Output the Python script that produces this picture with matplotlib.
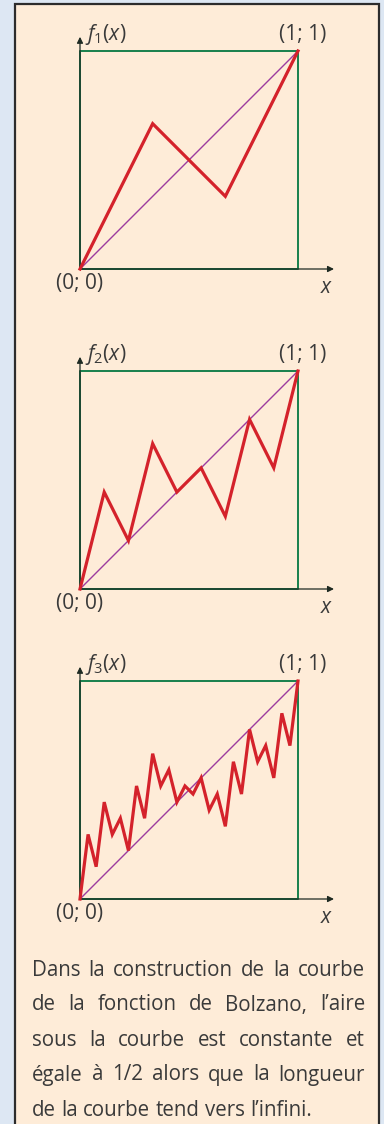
import matplotlib
matplotlib.use("Agg")
import matplotlib.pyplot as plt
from matplotlib.patches import Rectangle

# Successive stages of the Bolzano curve, vertices on a 1/27 grid
GRID = 27
f1_x = [0, 9, 18, 27]
f1_y = [0, 18, 9, 27]
f2_x = [0, 3, 6, 9, 12, 15, 18, 21, 24, 27]
f2_y = [0, 12, 6, 18, 12, 15, 9, 21, 15, 27]
f3_x = [0, 1, 2, 3, 4, 5, 6, 7, 8, 9, 10, 11, 12, 13,
        14, 15, 16, 17, 18, 19, 20, 21, 22, 23, 24, 25, 26, 27]
f3_y = [0, 8, 4, 12, 8, 10, 6, 14, 10, 18, 14, 16, 12, 14,
        13, 15, 11, 13, 9, 17, 13, 21, 17, 19, 15, 23, 19, 27]

stages = [
    (r"$f_1(x)$", f1_x, f1_y),
    (r"$f_2(x)$", f2_x, f2_y),
    (r"$f_3(x)$", f3_x, f3_y),
]
corner_lo = "(0; 0)"
corner_hi = "(1; 1)"
axis_name = r"$x$"

caption_lines = [
    "Dans la construction de la courbe",
    "de la fonction de Bolzano, l\u2019aire",
    "sous la courbe est constante et",
    "égale à 1/2 alors que la longueur",
    "de la courbe tend vers l\u2019infini.",
]

FONT = "Open Sans"
plt.rcParams["font.family"] = [FONT, "DejaVu Sans"]
plt.rcParams["mathtext.fontset"] = "custom"
plt.rcParams["mathtext.rm"] = FONT
plt.rcParams["mathtext.it"] = FONT + ":italic"

TEXT = "#3a3a3a"
GREEN = "#17804d"
RED = "#d4222b"
PURPLE = "#9c3c9f"
AXIS = "#1e2a22"

W, H, DPI = 384, 1124, 100
fig = plt.figure(figsize=(W / DPI, H / DPI), dpi=DPI)
fig.patch.set_facecolor("#dde7f3")

# framed beige panel, kept behind everything else
fig.patches.append(Rectangle((15 / W, -0.02), (379 - 15) / W, (H - 4) / H + 0.02,
                             transform=fig.transFigure, facecolor="#feecd8",
                             edgecolor="#2c2c2c", lw=1.6, zorder=-10))

SIDE = 218
LEFT = 80
tops = [51, 371, 681]
LABEL_SIZE = 15


def px_to_fig(x, y):
    return x / W, 1 - y / H


for (label, xs, ys), top in zip(stages, tops):
    bottom = top + SIDE
    ax = fig.add_axes([LEFT / W, 1 - bottom / H, SIDE / W, SIDE / H])
    ax.set_xlim(0, 1)
    ax.set_ylim(0, 1)
    ax.axis("off")

    ax.plot([0, 0, 1, 1, 0], [0, 1, 1, 0, 0], color=GREEN, lw=1.4,
            solid_capstyle="butt", clip_on=False)
    ax.plot([0, 1], [0, 1], color=PURPLE, lw=1.0)

    # coordinate axes with arrow heads, over the frame
    arrow = dict(arrowstyle="-|>", color=AXIS, lw=0.9, mutation_scale=9,
                 shrinkA=0, shrinkB=0)
    ax.annotate("", xy=(0, 1.065), xytext=(0, 0), arrowprops=arrow,
                annotation_clip=False)
    ax.annotate("", xy=(1.165, 0), xytext=(0, 0), arrowprops=arrow,
                annotation_clip=False)

    ax.plot([v / GRID for v in xs], [v / GRID for v in ys], color=RED, lw=2.3,
            solid_joinstyle="miter", clip_on=False, zorder=4)

    ax.text(0.025, 1.075, label, fontsize=LABEL_SIZE, color=TEXT, ha="left", va="center")
    ax.text(1.02, 1.075, corner_hi, fontsize=LABEL_SIZE, color=TEXT, ha="center", va="center")
    ax.text(0.0, -0.068, corner_lo, fontsize=LABEL_SIZE, color=TEXT, ha="center", va="center")
    ax.text(1.13, -0.085, axis_name, fontsize=LABEL_SIZE, color=TEXT, ha="center", va="center")

# justified caption
renderer = fig.canvas.get_renderer()
x0, x1 = 32, 365
base_y = 970
step = 35
size = 14.8
for i, line in enumerate(caption_lines):
    words = line.split(" ")
    y = base_y + i * step
    items = []
    widths = []
    for w in words:
        t = fig.text(0, 0, w, fontsize=size, color=TEXT, va="center", ha="left")
        items.append(t)
        widths.append(t.get_window_extent(renderer).width)
    if i < len(caption_lines) - 1 and len(words) > 1:
        gap = (x1 - x0 - sum(widths)) / (len(words) - 1)
    else:
        sp = fig.text(0, 0, "a a", fontsize=size)
        aa = fig.text(0, 0, "aa", fontsize=size)
        gap = sp.get_window_extent(renderer).width - aa.get_window_extent(renderer).width
        sp.remove()
        aa.remove()
    cx = x0
    for t, wdt in zip(items, widths):
        t.set_position(px_to_fig(cx, y))
        cx += wdt + gap

fig.savefig("out.png", dpi=DPI, facecolor=fig.get_facecolor())
